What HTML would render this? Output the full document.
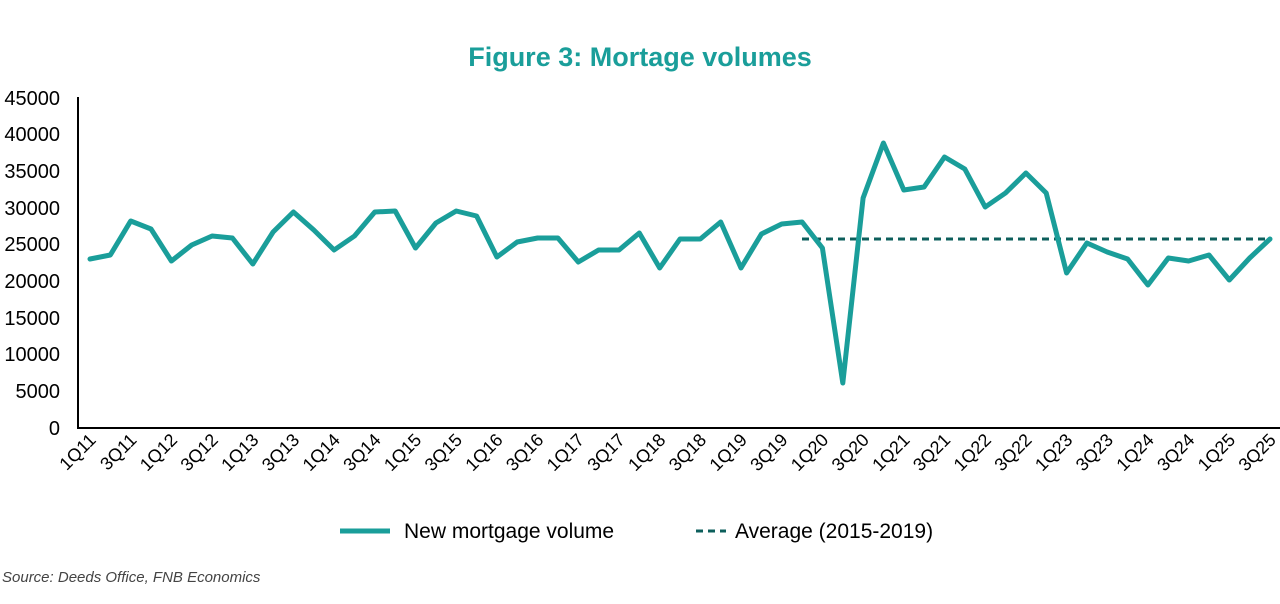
<!DOCTYPE html>
<html><head><meta charset="utf-8"><style>
body{margin:0;background:#fff;width:1280px;height:604px;overflow:hidden}
svg{display:block}
text{font-family:"Liberation Sans",sans-serif}
</style></head><body>
<svg width="1280" height="604" viewBox="0 0 1280 604" xmlns="http://www.w3.org/2000/svg">
<text x="640" y="66" text-anchor="middle" font-size="27" font-weight="bold" fill="#1a9e9a">Figure 3: Mortage volumes</text>
<g font-size="20" fill="#000" text-anchor="end">
<text x="60" y="105">45000</text><text x="60" y="141">40000</text><text x="60" y="178">35000</text><text x="60" y="215">30000</text><text x="60" y="251">25000</text><text x="60" y="288">20000</text><text x="60" y="325">15000</text><text x="60" y="361">10000</text><text x="60" y="398">5000</text><text x="60" y="435">0</text>
</g>
<line x1="78" y1="97" x2="78" y2="429" stroke="#000" stroke-width="2"/>
<line x1="77" y1="428" x2="1280" y2="428" stroke="#000" stroke-width="2"/>
<g id="xl" font-size="18" fill="#000" text-anchor="end"></g>
<line x1="802" y1="239" x2="1270" y2="239" stroke="#0d5f5c" stroke-width="3" stroke-dasharray="7,5"/>
<polyline id="ln" fill="none" stroke="#1a9e9a" stroke-width="5" stroke-linejoin="round" stroke-linecap="round" points=""/>
<line x1="340" y1="531" x2="390" y2="531" stroke="#1a9e9a" stroke-width="5"/>
<text x="404" y="538" font-size="21">New mortgage volume</text>
<line x1="696" y1="531" x2="726" y2="531" stroke="#0d5f5c" stroke-width="3" stroke-dasharray="7,5"/>
<text x="735" y="538" font-size="21">Average (2015-2019)</text>
<text x="2" y="582" font-size="15" font-style="italic" fill="#444">Source: Deeds Office, FNB Economics</text>
</svg>
<script>
var ys=[259,255,221,229,261,245,236,238,264,232,212,230,250,236,212,211,248,223,211,216,257,242,238,238,262,250,250,233,268,239,239,222,268,234,224,222,248,383,198,143,190,187,157,169,207,193,173,193,273,243,252,259,285,258,261,255,280,258,239];
var p=[];for(var i=0;i<ys.length;i++){p.push((90+i*1180/58).toFixed(1)+","+ys[i]);}
document.getElementById("ln").setAttribute("points",p.join(" "));
var g=document.getElementById("xl"),ns="http://www.w3.org/2000/svg";
for(var i=0;i<59;i+=2){var yr=11+Math.floor(i/4),q=(i%4)+1;var x=90+i*1180/58+7;var t=document.createElementNS(ns,"text");
t.setAttribute("x",x);t.setAttribute("y",441);t.setAttribute("transform","rotate(-45 "+x+" 441)");t.textContent=q+"Q"+yr;g.appendChild(t);}
</script>
</body></html>
